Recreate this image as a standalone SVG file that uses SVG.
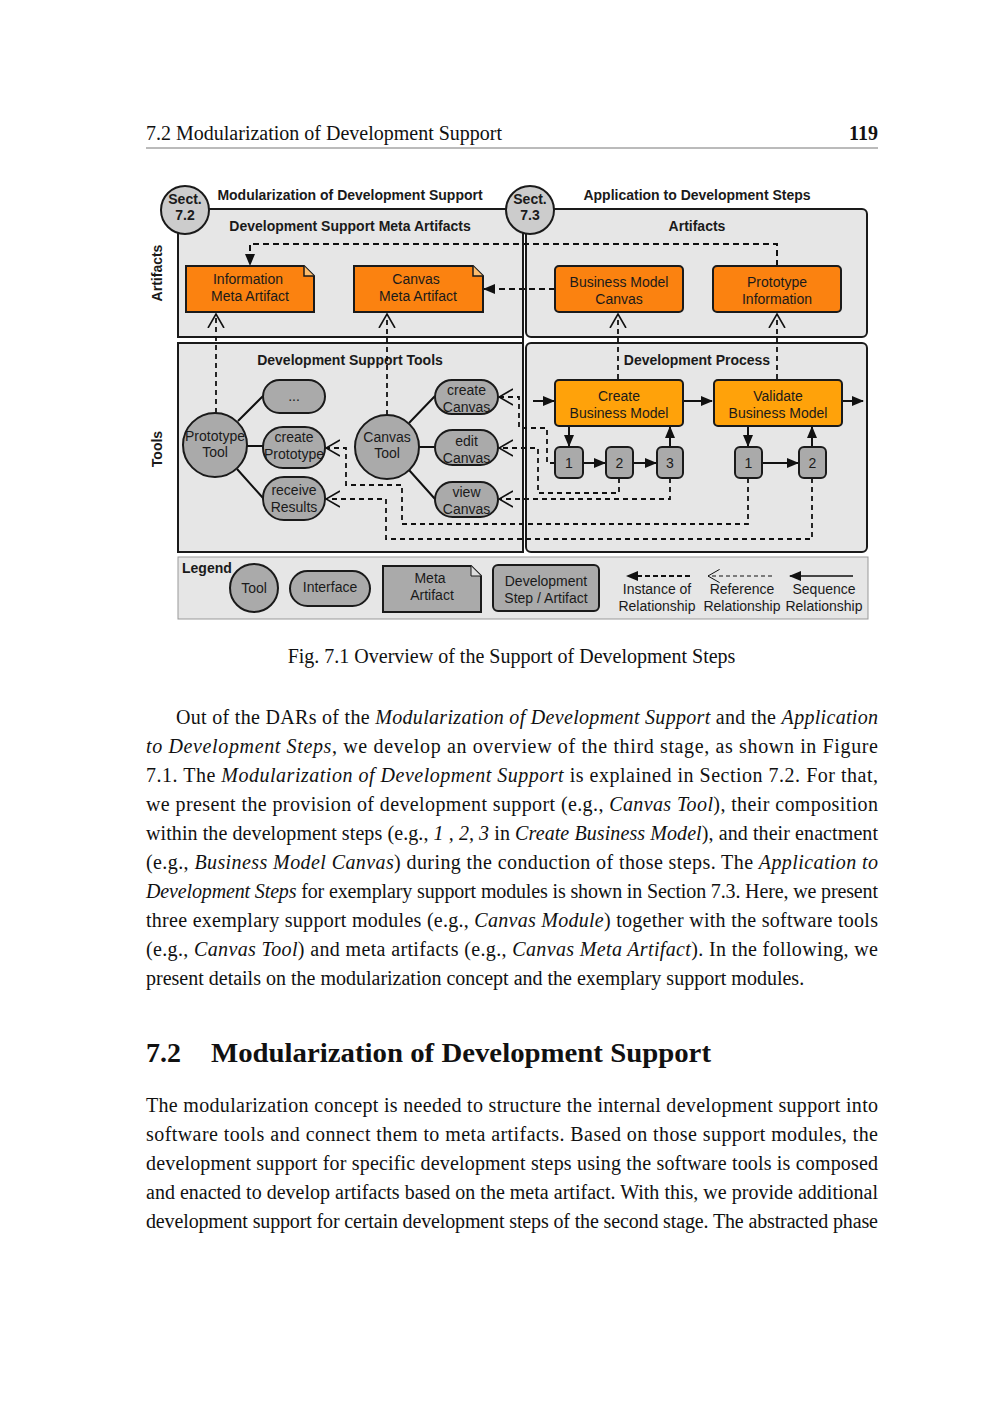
<svg xmlns="http://www.w3.org/2000/svg" width="1000" height="1414" viewBox="0 0 1000 1414">
<defs>
<marker id="fill" viewBox="0 0 12 10" refX="11" refY="5" markerWidth="12" markerHeight="10" markerUnits="userSpaceOnUse" orient="auto"><path d="M0,0 L12,5 L0,10 z" fill="#111"/></marker>
<marker id="open" viewBox="0 0 15 18" refX="14" refY="9" markerWidth="15" markerHeight="18" markerUnits="userSpaceOnUse" orient="auto"><path d="M0,1 L14,9 L0,17" fill="none" stroke="#111" stroke-width="1.6"/></marker>
<marker id="openS" viewBox="0 0 15 18" refX="14" refY="9" markerWidth="13" markerHeight="15" markerUnits="userSpaceOnUse" orient="auto"><path d="M0,1 L14,9 L0,17" fill="none" stroke="#111" stroke-width="1.2"/></marker>
<style>
.page{font-family:"Liberation Serif","Times New Roman",serif;fill:#111}
.d{font-family:"Liberation Sans",Arial,sans-serif;font-size:14px;fill:#1a1a1a}
.b{font-weight:bold}
.c{text-anchor:middle}
.cont{fill:#e6e6e6;stroke:#1a1a1a;stroke-width:2}
.art{fill:#fb8210;stroke:#1a1a1a;stroke-width:2}
.proc{fill:#ffa20a;stroke:#1a1a1a;stroke-width:2}
.gray{fill:#aaaaaa;stroke:#1a1a1a;stroke-width:2}
.sect{fill:#cccccc;stroke:#1a1a1a;stroke-width:2}
.inst{fill:none;stroke:#111;stroke-width:2;stroke-dasharray:6 4;marker-end:url(#fill)}
.ref{fill:none;stroke:#111;stroke-width:1.8;stroke-dasharray:5 4;marker-end:url(#open)}
.seq{fill:none;stroke:#111;stroke-width:2;marker-end:url(#fill)}
.tie{fill:none;stroke:#111;stroke-width:2}
</style>
</defs>
<rect width="1000" height="1414" fill="#ffffff"/>

<!-- page header -->
<text class="page" x="146" y="140" font-size="20">7.2 Modularization of Development Support</text>
<text class="page" x="878" y="140" font-size="20" font-weight="bold" text-anchor="end">119</text>
<line x1="146" y1="148" x2="878" y2="148" stroke="#777" stroke-width="1"/>

<!-- containers -->
<g id="containers">
<rect id="left-artifacts" class="cont" x="178" y="209" width="345" height="128"/>
<rect id="right-artifacts" class="cont" x="526" y="209" width="341" height="128" rx="5"/>
<rect id="left-tools" class="cont" x="178" y="343" width="345" height="209"/>
<rect id="right-process" class="cont" x="526" y="343" width="341" height="209" rx="5"/>
<rect id="legend-box" x="178" y="557" width="690" height="62" fill="#e6e6e6" stroke="#999" stroke-width="1"/>
</g>

<!-- labels -->
<g id="labels">
<text class="d b c" x="350" y="200">Modularization of Development Support</text>
<text class="d b c" x="697" y="200">Application to Development Steps</text>
<text class="d b c" x="350" y="231">Development Support Meta Artifacts</text>
<text class="d b c" x="697" y="231">Artifacts</text>
<text class="d b c" x="350" y="365">Development Support Tools</text>
<text class="d b c" x="697" y="365">Development Process</text>
<text class="d b c" transform="translate(162,273) rotate(-90)">Artifacts</text>
<text class="d b c" transform="translate(162,449) rotate(-90)">Tools</text>
</g>

<!-- connectors -->
<g id="connectors">
<path class="inst" d="M777,266 V244 H250 V265"/>
<path class="inst" d="M555,289 H484"/>
<path class="ref" d="M216,413 V314"/>
<path class="ref" d="M387,415 V314"/>
<path class="ref" d="M618,379 V314"/>
<path class="ref" d="M777,379 V314"/>
<path class="ref" d="M555,463 H547 V428 H519 V397 H499"/>
<path class="ref" d="M619,478 V493 H538 V448 H499"/>
<path class="ref" d="M670,478 V499 H499"/>
<path class="ref" d="M748,478 V524 H402 V485 H346 V448 H326"/>
<path class="ref" d="M812,478 V539 H386 V499 H326"/>
<path class="seq" d="M533,401 H554"/>
<path class="seq" d="M683,401 H712"/>
<path class="seq" d="M842,401 H863"/>
<path class="seq" d="M569,427 V446"/>
<path class="seq" d="M583,463 H605"/>
<path class="seq" d="M633,463 H656"/>
<path class="seq" d="M670,446 V427"/>
<path class="seq" d="M748,427 V446"/>
<path class="seq" d="M762,463 H798"/>
<path class="seq" d="M812,446 V427"/>
<path class="tie" d="M238,421 L263,396 M247,446 H263 M237,469 L263,498"/>
<path class="tie" d="M409,423 L435,396 M419,447 H435 M409,470 L435,499"/>
</g>

<!-- section circles -->
<g id="sect72">
<circle class="sect" cx="185" cy="210" r="24"/>
<text class="d b c" x="185" y="204">Sect.</text>
<text class="d b c" x="185" y="220">7.2</text>
</g>
<line x1="523" y1="230" x2="523" y2="552" stroke="#1a1a1a" stroke-width="2"/>
<g id="sect73">
<circle class="sect" cx="530" cy="210" r="24"/>
<text class="d b c" x="530" y="204">Sect.</text>
<text class="d b c" x="530" y="220">7.3</text>
</g>

<!-- artifact nodes -->
<g id="info-meta">
<path class="art" d="M186,266 H304 L314,276 V312 H186 Z"/>
<path d="M304,266 V276 H314" fill="#fdbd6e" stroke="#1a1a1a" stroke-width="1.5"/>
<text class="d c" x="248" y="284">Information</text>
<text class="d c" x="250" y="301">Meta Artifact</text>
</g>
<g id="canvas-meta">
<path class="art" d="M354,266 H473 L483,276 V312 H354 Z"/>
<path d="M473,266 V276 H483" fill="#fdbd6e" stroke="#1a1a1a" stroke-width="1.5"/>
<text class="d c" x="416" y="284">Canvas</text>
<text class="d c" x="418" y="301">Meta Artifact</text>
</g>
<g id="bmc">
<rect class="art" x="555" y="266" width="128" height="46" rx="4"/>
<text class="d c" x="619" y="287">Business Model</text>
<text class="d c" x="619" y="304">Canvas</text>
</g>
<g id="proto-info">
<rect class="art" x="713" y="266" width="128" height="46" rx="4"/>
<text class="d c" x="777" y="287">Prototype</text>
<text class="d c" x="777" y="304">Information</text>
</g>

<!-- process nodes -->
<g id="create-bm">
<rect class="proc" x="555" y="380" width="128" height="46" rx="4"/>
<text class="d c" x="619" y="401">Create</text>
<text class="d c" x="619" y="418">Business Model</text>
</g>
<g id="validate-bm">
<rect class="proc" x="714" y="380" width="128" height="46" rx="4"/>
<text class="d c" x="778" y="401">Validate</text>
<text class="d c" x="778" y="418">Business Model</text>
</g>
<g id="c1"><rect class="gray" x="555" y="447" width="28" height="31" rx="5"/><text class="d c" x="569" y="468">1</text></g>
<g id="c2"><rect class="gray" x="606" y="447" width="27" height="31" rx="5"/><text class="d c" x="619.5" y="468">2</text></g>
<g id="c3"><rect class="gray" x="657" y="447" width="26" height="31" rx="5"/><text class="d c" x="670" y="468">3</text></g>
<g id="v1"><rect class="gray" x="735" y="447" width="27" height="31" rx="5"/><text class="d c" x="748.5" y="468">1</text></g>
<g id="v2"><rect class="gray" x="799" y="447" width="27" height="31" rx="5"/><text class="d c" x="812.5" y="468">2</text></g>

<!-- tools -->
<g id="prototype-tool">
<circle class="gray" cx="215" cy="445" r="32"/>
<text class="d c" x="215" y="441">Prototype</text>
<text class="d c" x="215" y="457">Tool</text>
</g>
<g id="canvas-tool">
<circle class="gray" cx="387" cy="447" r="32"/>
<text class="d c" x="387" y="442">Canvas</text>
<text class="d c" x="387" y="458">Tool</text>
</g>
<g id="dots-if"><rect class="gray" x="263" y="380" width="62" height="33" rx="16.5"/><text class="d c" x="294" y="401">...</text></g>
<g id="create-prototype"><rect class="gray" x="263" y="427" width="62" height="41" rx="20"/><text class="d c" x="294" y="442">create</text><text class="d c" x="294" y="459">Prototype</text></g>
<g id="receive-results"><rect class="gray" x="263" y="477" width="62" height="43" rx="21"/><text class="d c" x="294" y="495">receive</text><text class="d c" x="294" y="512">Results</text></g>
<g id="create-canvas"><rect class="gray" x="435" y="380" width="63" height="34" rx="17"/><text class="d c" x="466.5" y="395">create</text><text class="d c" x="466.5" y="412">Canvas</text></g>
<g id="edit-canvas"><rect class="gray" x="435" y="430" width="63" height="35" rx="17.5"/><text class="d c" x="466.5" y="446">edit</text><text class="d c" x="466.5" y="463">Canvas</text></g>
<g id="view-canvas"><rect class="gray" x="435" y="482" width="63" height="35" rx="17.5"/><text class="d c" x="466.5" y="497">view</text><text class="d c" x="466.5" y="514">Canvas</text></g>

<!-- legend -->
<g id="legend">
<text class="d b" x="182" y="573">Legend</text>
<ellipse class="gray" cx="254" cy="588" rx="24" ry="24" stroke-width="1.5"/>
<text class="d c" x="254" y="593">Tool</text>
<rect class="gray" x="290" y="571" width="80" height="35" rx="17.5" stroke-width="1.5"/>
<text class="d c" x="330" y="592">Interface</text>
<path class="gray" d="M383,566 H471 L481,576 V612 H383 Z" stroke-width="1.5"/>
<path d="M471,566 V576 H481" fill="#ddd" stroke="#1a1a1a" stroke-width="1"/>
<text class="d c" x="430" y="583">Meta</text>
<text class="d c" x="432" y="600">Artifact</text>
<rect class="gray" x="493" y="565" width="106" height="46" rx="5" stroke-width="1.5"/>
<text class="d c" x="546" y="586">Development</text>
<text class="d c" x="546" y="603">Step / Artifact</text>
<path d="M690,576 H627" fill="none" stroke="#111" stroke-width="2" stroke-dasharray="5 3" marker-end="url(#fill)"/>
<path d="M772,576 H708" fill="none" stroke="#111" stroke-width="1" stroke-dasharray="4 3" marker-end="url(#openS)"/>
<path d="M853,576 H790" fill="none" stroke="#111" stroke-width="1.3" marker-end="url(#fill)"/>
<text class="d c" x="657" y="594">Instance of</text>
<text class="d c" x="657" y="611">Relationship</text>
<text class="d c" x="742" y="594">Reference</text>
<text class="d c" x="742" y="611">Relationship</text>
<text class="d c" x="824" y="594">Sequence</text>
<text class="d c" x="824" y="611">Relationship</text>
</g>

<!-- caption -->
<text class="page" x="511.5" y="663" font-size="20" text-anchor="middle">Fig. 7.1 Overview of the Support of Development Steps</text>

<!-- body text -->
<g class="page" font-size="20">
<text x="176" y="724" textLength="702" lengthAdjust="spacing">Out of the DARs of the <tspan font-style="italic">Modularization of Development Support</tspan> and the <tspan font-style="italic">Application</tspan></text>
<text x="146" y="753" textLength="732" lengthAdjust="spacing"><tspan font-style="italic">to Development Steps</tspan>, we develop an overview of the third stage, as shown in Figure</text>
<text x="146" y="782" textLength="732" lengthAdjust="spacing">7.1.  The <tspan font-style="italic">Modularization of Development Support</tspan> is explained in Section 7.2.  For that,</text>
<text x="146" y="811" textLength="732" lengthAdjust="spacing">we present the provision of development support (e.g., <tspan font-style="italic">Canvas Tool</tspan>), their composition</text>
<text x="146" y="840" textLength="732" lengthAdjust="spacing">within the development steps (e.g., <tspan font-style="italic">1 , 2, 3</tspan> in <tspan font-style="italic">Create Business Model</tspan>), and their enactment</text>
<text x="146" y="869" textLength="732" lengthAdjust="spacing">(e.g., <tspan font-style="italic">Business Model Canvas</tspan>) during the conduction of those steps.  The <tspan font-style="italic">Application to</tspan></text>
<text x="146" y="898" textLength="732" lengthAdjust="spacing"><tspan font-style="italic">Development Steps</tspan> for exemplary support modules is shown in Section 7.3. Here, we present</text>
<text x="146" y="927" textLength="732" lengthAdjust="spacing">three exemplary support modules (e.g., <tspan font-style="italic">Canvas Module</tspan>) together with the software tools</text>
<text x="146" y="956" textLength="732" lengthAdjust="spacing">(e.g., <tspan font-style="italic">Canvas Tool</tspan>) and meta artifacts (e.g., <tspan font-style="italic">Canvas Meta Artifact</tspan>).  In the following, we</text>
<text x="146" y="985">present details on the modularization concept and the exemplary support modules.</text>

<text x="146" y="1062" font-size="28" font-weight="bold">7.2</text>
<text x="211" y="1062" font-size="28" font-weight="bold" textLength="500" lengthAdjust="spacingAndGlyphs">Modularization of Development Support</text>

<text x="146" y="1112" textLength="732" lengthAdjust="spacing">The modularization concept is needed to structure the internal development support into</text>
<text x="146" y="1141" textLength="732" lengthAdjust="spacing">software tools and connect them to meta artifacts.  Based on those support modules, the</text>
<text x="146" y="1170" textLength="732" lengthAdjust="spacing">development support for specific development steps using the software tools is composed</text>
<text x="146" y="1199" textLength="732" lengthAdjust="spacing">and enacted to develop artifacts based on the meta artifact. With this, we provide additional</text>
<text x="146" y="1228" textLength="732" lengthAdjust="spacing">development support for certain development steps of the second stage. The abstracted phase</text>
</g>
</svg>
